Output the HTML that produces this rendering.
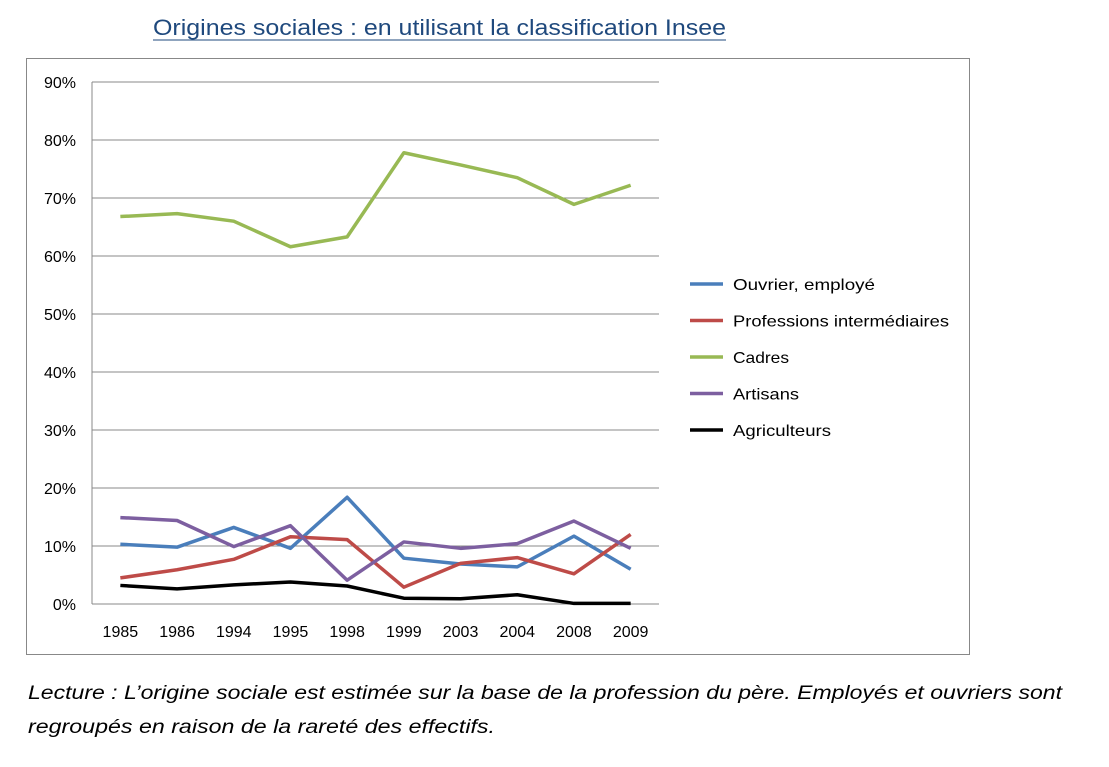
<!DOCTYPE html>
<html><head><meta charset="utf-8"><style>
body{margin:0;background:#fff;width:1109px;height:762px;overflow:hidden;font-family:"Liberation Sans",sans-serif}
</style></head><body>
<svg width="1109" height="762" xmlns="http://www.w3.org/2000/svg" id="chart">
<text x="153" y="35" font-size="22" fill="#1f497d" textLength="573" lengthAdjust="spacingAndGlyphs">Origines sociales : en utilisant la classification Insee</text>
<line x1="153" y1="40" x2="726" y2="40" stroke="#1f497d" stroke-width="1"/>
<rect x="26.5" y="58.5" width="943" height="596" fill="#fff" stroke="#888"/>
<g id="grid"></g><g id="series"></g><g id="legend"></g>
<text font-size="19" font-style="italic" fill="#000"><tspan x="28" y="699" textLength="1034" lengthAdjust="spacingAndGlyphs">Lecture : L’origine sociale est estimée sur la base de la profession du père. Employés et ouvriers sont</tspan><tspan x="28" y="733" textLength="467" lengthAdjust="spacingAndGlyphs">regroupés en raison de la rareté des effectifs.</tspan></text>
</svg>
<script>
const categories=["1985","1986","1994","1995","1998","1999","2003","2004","2008","2009"];
const yTicks=[0,10,20,30,40,50,60,70,80,90];
const seriesNames=["Ouvrier, employé","Professions intermédiaires","Cadres","Artisans","Agriculteurs"];
const legendLens=[142,216,56,66,98];
const seriesColors=["#4a7ebb","#be4b48","#98b954","#7d5fa0","#000000"];
const ouvrier=[10.3,9.8,13.2,9.6,18.4,7.9,6.9,6.4,11.7,6.0];
const profInt=[4.5,5.9,7.7,11.6,11.1,2.9,7.0,8.0,5.2,12.0];
const cadres=[66.8,67.3,66.0,61.6,63.3,77.8,75.7,73.5,68.9,72.2];
const artisans=[14.9,14.4,9.9,13.5,4.1,10.7,9.6,10.4,14.3,9.6];
const agriculteurs=[3.2,2.6,3.3,3.8,3.1,1.0,0.9,1.6,0.1,0.1];
const allSeries=[ouvrier,profInt,cadres,artisans,agriculteurs];
const NS="http://www.w3.org/2000/svg";
const X0=92,X1=659,Y0=604,Y1=82;
const xs=i=>X0+(i+0.5)*(X1-X0)/categories.length;
const ys=v=>Y0-(v/90)*(Y0-Y1);
function mk(t,a,p){const e=document.createElementNS(NS,t);for(const k in a)e.setAttribute(k,a[k]);p.appendChild(e);return e;}
const g=document.getElementById('grid');
yTicks.forEach(t=>{
 const l=mk('line',{x1:X0,x2:X1,y1:ys(t),y2:ys(t),stroke:'#888','stroke-width':1},g);
 
 
 const tx=mk('text',{x:76,y:ys(t)+6,'text-anchor':'end','font-size':16,fill:'#000'},g);
 tx.textContent=t+'%';
 
 
});
const ax=mk('line',{x1:X0,x2:X0,y1:Y1,y2:Y0,stroke:'#888'},g);


categories.forEach((c,i)=>{
 const tx=mk('text',{x:xs(i),y:637,'text-anchor':'middle','font-size':16,fill:'#000'},g);
 tx.textContent=c;
 
 
});
const s=document.getElementById('series');
allSeries.forEach((d,k)=>{
 const p=mk('polyline',{points:d.map((v,i)=>xs(i)+','+ys(v)).join(' '),fill:'none',stroke:seriesColors[k],'stroke-width':3.5,'stroke-linejoin':'round'},s);
 
 
});
const lg=document.getElementById('legend');
seriesNames.forEach((n,k)=>{
 const y=284+k*36.5;
 const l=mk('line',{x1:690,x2:723,y1:y,y2:y,stroke:seriesColors[k],'stroke-width':3.5},lg);
 
 
 const t=mk('text',{x:733,y:y+6,'font-size':16,fill:'#000',textLength:legendLens[k],lengthAdjust:'spacingAndGlyphs'},lg);
 t.textContent=n;
 
 
});
</script>
</body></html>
